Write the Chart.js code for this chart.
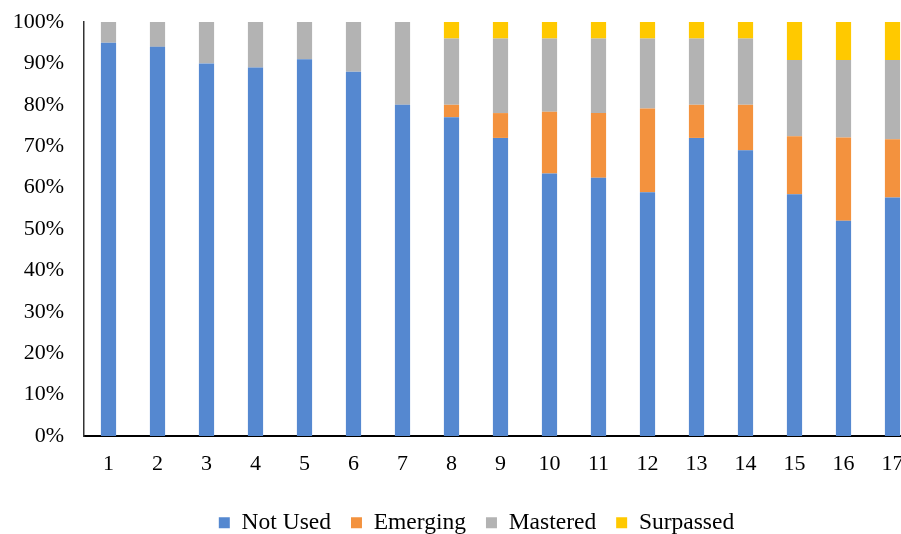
<!DOCTYPE html>
<html>
<head>
<meta charset="utf-8">
<script src="https://cdn.jsdelivr.net/npm/chart.js@4/dist/chart.umd.min.js"></script>
<style>
  html, body { margin: 0; padding: 0; background: #fff; overflow: hidden; }
  #wrap { width: 952px; height: 534px; }
</style>
</head>
<body>
<div id="wrap"><canvas id="chart" width="952" height="534"></canvas></div>
<script>
const labels = ['1','2','3','4','5','6','7','8','9','10','11','12','13','14','15','16','17'];
const notUsed   = [95, 94, 90, 89, 91, 88, 80, 77, 72, 63.4, 62.4, 58.9, 72, 69, 58.4, 52, 57.6];
const emerging  = [0, 0, 0, 0, 0, 0, 0, 3, 6, 14.9, 15.6, 20.2, 8, 11, 14, 20.1, 14.1];
const mastered  = [5, 6, 10, 11, 9, 12, 20, 16, 18, 17.7, 18, 16.9, 16, 16, 18.4, 18.7, 19.1];
const surpassed = [0, 0, 0, 0, 0, 0, 0, 4, 4, 4, 4, 4, 4, 4, 9.2, 9.2, 9.2];
const yTicks = [0, 10, 20, 30, 40, 50, 60, 70, 80, 90, 100];

Chart.defaults.font.family = '"Liberation Serif", "Times New Roman", serif';
Chart.defaults.font.size = 22;
Chart.defaults.color = '#000';

// legend: fixed height and a small shift, like the original
const legendTweak = {
  id: 'legendTweak',
  beforeInit(chart) {
    const fit = chart.legend.fit;
    chart.legend.fit = function() {
      fit.call(this);
      this.height = 45;
    };
  },
  afterLayout(chart) {
    chart.legend.left += 18;
    chart.legend.right += 18;
    chart.legend.top += 2;
    chart.legend.bottom += 2;
  }
};

const ctx = document.getElementById('chart');

new Chart(ctx, {
  type: 'bar',
  data: {
    labels: labels,
    datasets: [
      { label: 'Not Used', data: notUsed, backgroundColor: '#5588D0' },
      { label: 'Emerging', data: emerging, backgroundColor: '#F3923E' },
      { label: 'Mastered', data: mastered, backgroundColor: '#B3B3B3' },
      { label: 'Surpassed', data: surpassed, backgroundColor: '#FFC900' }
    ]
  },
  plugins: [legendTweak],
  options: {
    responsive: false,
    animation: false,
    layout: { padding: { left: 0, right: 35, top: 22, bottom: 0 } },
    datasets: { bar: { categoryPercentage: 1, barPercentage: 0.31 } },
    plugins: {
      legend: {
        position: 'bottom',
        labels: { boxWidth: 11, boxHeight: 11, padding: 20, font: { size: 23.5 } }
      },
      tooltip: { enabled: false }
    },
    scales: {
      x: {
        stacked: true,
        grid: { display: false, drawTicks: false },
        border: { color: '#000', width: 2 },
        ticks: { padding: 15, maxRotation: 0 },
        afterFit: function(scale) { scale.height = 53; }
      },
      y: {
        stacked: true,
        min: 0,
        max: 100,
        afterBuildTicks: function(scale) {
          scale.ticks = yTicks.map(v => ({ value: v }));
        },
        grid: { display: false, drawTicks: false },
        border: { color: '#333', width: 1.5 },
        ticks: {
          padding: 20,
          callback: function(v) { return v + '%'; }
        },
        afterFit: function(scale) {
          scale.width = 84;
          scale.paddingTop = 0;
          scale.paddingBottom = 0;
        }
      }
    }
  }
});
</script>
</body>
</html>
